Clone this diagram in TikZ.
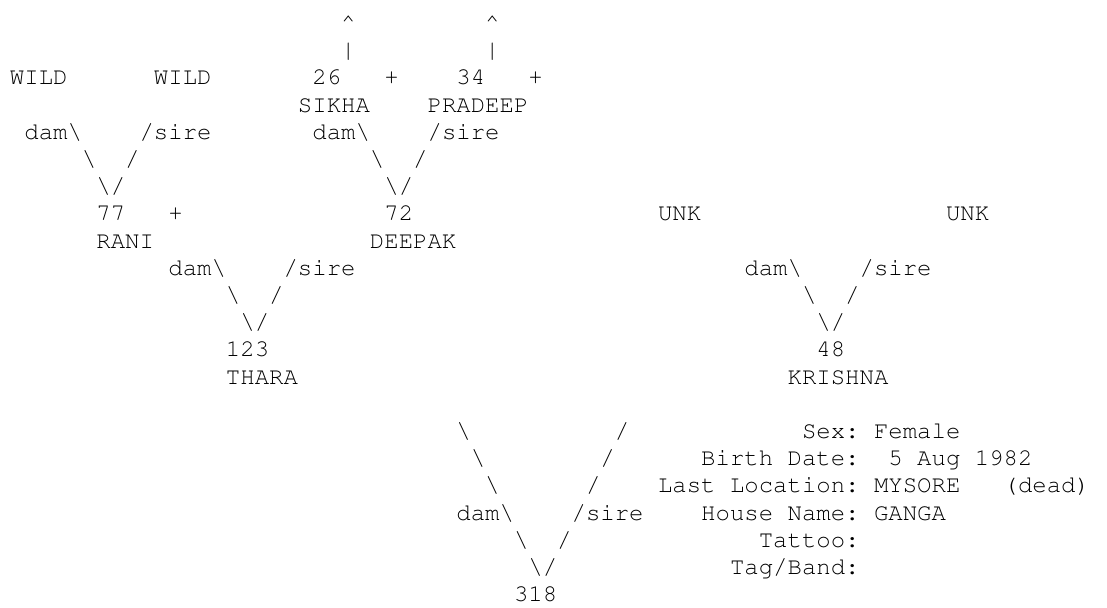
\documentclass[tikz,border=0pt]{standalone}
\usepackage[T1]{fontenc}
\usepackage{courier}
\usepackage{tikz}
\tikzset{
  pedtext/.style={anchor=base west, inner sep=0pt, outer sep=0pt, text=black, font=\ttfamily\fontsize{24}{27}\selectfont},
  linkchar/.style={pedtext},
  infokey/.style={pedtext, anchor=base east}
}

\begin{document}
\begin{tikzpicture}[x=14.4pt, y=-27.19pt]
  \path[fill=white, use as bounding box] (-0.694,-1.125) rectangle (76.181,21.236);
  % grandparents of 72
  \node[linkchar] (up1) at (23,0) {\textasciicircum};
  \node[linkchar] (up2) at (33,0) {\textasciicircum};
  \node[linkchar] (bar1) at (23,1) {\textbar};
  \node[linkchar] (bar2) at (33,1) {\textbar};
  \node[pedtext] (wilddam) at (0,2) {WILD};
  \node[pedtext] (wildsire) at (10,2) {WILD};
  \node[pedtext] (n26) at (21,2) {26};
  \node[pedtext] (plus26) at (26,2) {+};
  \node[pedtext] (n34) at (31,2) {34};
  \node[pedtext] (plus34) at (36,2) {+};
  \node[pedtext] (sikha) at (20,3) {SIKHA};
  \node[pedtext] (pradeep) at (29,3) {PRADEEP};
  \node[linkchar] (dam77) at (1,4) {dam\textbackslash};
  \node[linkchar] (sire77) at (9,4) {/sire};
  \node[linkchar] (dam72) at (21,4) {dam\textbackslash};
  \node[linkchar] (sire72) at (29,4) {/sire};
  \node[linkchar] (bsa77) at (5,5) {\textbackslash};
  \node[linkchar] (sla77) at (8,5) {/};
  \node[linkchar] (bsa72) at (25,5) {\textbackslash};
  \node[linkchar] (sla72) at (28,5) {/};
  \node[linkchar] (vee77) at (6,6) {\textbackslash/};
  \node[linkchar] (vee72) at (26,6) {\textbackslash/};
  % parents of 318
  \node[pedtext] (n77) at (6,7) {77};
  \node[pedtext] (plus77) at (11,7) {+};
  \node[pedtext] (n72) at (26,7) {72};
  \node[pedtext] (unkdam) at (45,7) {UNK};
  \node[pedtext] (unksire) at (65,7) {UNK};
  \node[pedtext] (rani) at (6,8) {RANI};
  \node[pedtext] (deepak) at (25,8) {DEEPAK};
  \node[linkchar] (dam123) at (11,9) {dam\textbackslash};
  \node[linkchar] (sire123) at (19,9) {/sire};
  \node[linkchar] (dam48) at (51,9) {dam\textbackslash};
  \node[linkchar] (sire48) at (59,9) {/sire};
  \node[linkchar] (bsa123) at (15,10) {\textbackslash};
  \node[linkchar] (sla123) at (18,10) {/};
  \node[linkchar] (bsa48) at (55,10) {\textbackslash};
  \node[linkchar] (sla48) at (58,10) {/};
  \node[linkchar] (vee123) at (16,11) {\textbackslash/};
  \node[linkchar] (vee48) at (56,11) {\textbackslash/};
  \node[pedtext] (n123) at (15,12) {123};
  \node[pedtext] (n48) at (56,12) {48};
  \node[pedtext] (thara) at (15,13) {THARA};
  \node[pedtext] (krishna) at (54,13) {KRISHNA};
  % the animal itself
  \node[linkchar] (bsa318a) at (31,15) {\textbackslash};
  \node[linkchar] (sla318a) at (42,15) {/};
  \node[linkchar] (bsa318b) at (32,16) {\textbackslash};
  \node[linkchar] (sla318b) at (41,16) {/};
  \node[linkchar] (bsa318c) at (33,17) {\textbackslash};
  \node[linkchar] (sla318c) at (40,17) {/};
  \node[linkchar] (dam318) at (31,18) {dam\textbackslash};
  \node[linkchar] (sire318) at (39,18) {/sire};
  \node[linkchar] (bsa318d) at (35,19) {\textbackslash};
  \node[linkchar] (sla318d) at (38,19) {/};
  \node[linkchar] (vee318) at (36,20) {\textbackslash/};
  \node[pedtext] (n318) at (35,21) {318};
  % record of 318
  \node[infokey] (sexkey) at (59,15) {Sex:};
  \node[pedtext] (sexval) at (60,15) {Female};
  \node[infokey] (birthkey) at (59,16) {Birth Date:};
  \node[pedtext] (birthval) at (61,16) {5 Aug 1982};
  \node[infokey] (lockey) at (59,17) {Last Location:};
  \node[pedtext] (locval) at (60,17) {MYSORE};
  \node[pedtext] (dead) at (69,17) {(dead)};
  \node[infokey] (housekey) at (59,18) {House Name:};
  \node[pedtext] (houseval) at (60,18) {GANGA};
  \node[infokey] (tattookey) at (59,19) {Tattoo:};
  \node[infokey] (tagkey) at (59,20) {Tag/Band:};
\end{tikzpicture}
\end{document}
